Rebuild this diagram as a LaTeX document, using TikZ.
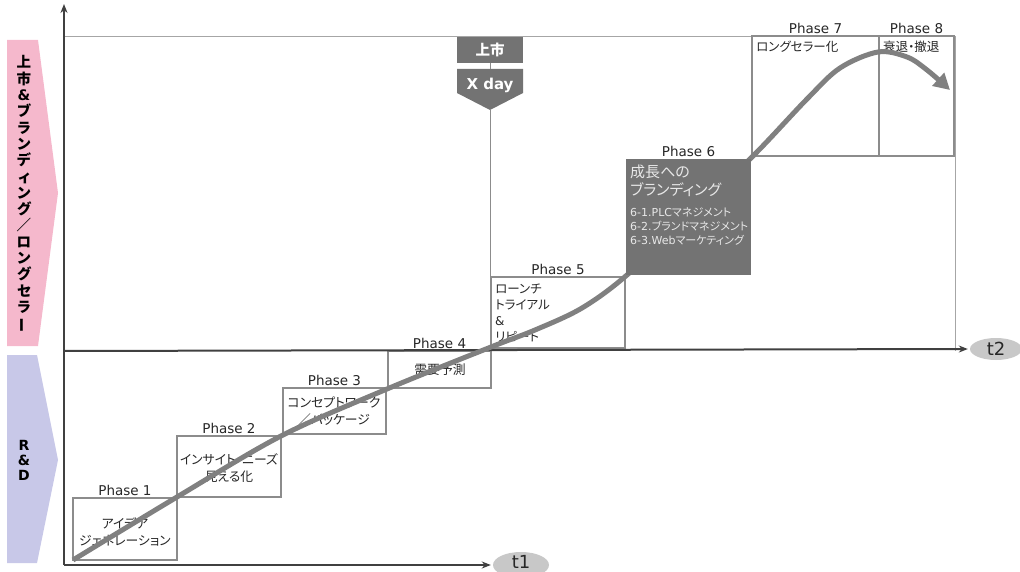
\documentclass[tikz,border=0pt]{standalone}
\usepackage{fontspec}
\usepackage{graphicx}
\setmainfont{DejaVu Sans}
\newfontfamily\jp[RawFeature=+palt]{Noto Sans CJK JP}
\usetikzlibrary{arrows.meta,shapes.geometric,calc}
\definecolor{boxgray}{HTML}{8C8C8C}
\definecolor{curvegray}{HTML}{808080}
\definecolor{darkfill}{HTML}{737373}
\definecolor{axisc}{HTML}{404040}
\definecolor{framec}{HTML}{A6A6A6}
\definecolor{ellc}{HTML}{C8C8C8}
\definecolor{pinkc}{HTML}{F5B8CC}
\definecolor{lavc}{HTML}{C8C8E8}
\definecolor{txt}{HTML}{262626}
\definecolor{lighttxt}{HTML}{E8E8E8}
\begin{document}
\begin{tikzpicture}[x=1pt,y=-1pt,
  pbox/.style={draw=boxgray, line width=2.4pt, inner sep=0pt, outer sep=0pt, anchor=north west},
  phl/.style={font=\fontsize{13.5}{16}\selectfont, text=txt, anchor=south, inner sep=2.5pt},
  jt/.style={font=\jp\fontsize{12.8}{17}\selectfont, text=txt, align=center, inner sep=0pt},
  jtl/.style={font=\jp\fontsize{12.5}{16}\selectfont, text=txt, align=left, inner sep=0pt, anchor=north west},
  axis/.style={draw=axisc, line width=2pt, -{Stealth[length=9pt,width=7pt]}},
  tlab/.style={ellipse, fill=ellc, inner sep=0pt, text=txt, font=\fontsize{18}{18}\selectfont},
  darkbox/.style={fill=darkfill, inner sep=0pt, text=white, font=\bfseries\fontsize{14.5}{16}\selectfont}
]
\useasboundingbox (0,0) rectangle (1020,572);

% left band arrows
\fill[pinkc] (7,40) -- (38,40) -- (58,193) -- (38,346) -- (7,346) -- cycle;
\fill[lavc] (7,355) -- (37,355) -- (58,460) -- (37,563) -- (7,563) -- cycle;
\node[font=\jp\bfseries\fontsize{14.5}{16.3}\selectfont, align=center, text=black, inner sep=0pt] (bandtop) at (24,194)
  {上\\市\\{\rmfamily\bfseries\&}\\ブ\\ラ\\ン\\デ\\ィ\\ン\\グ\\／\\ロ\\ン\\グ\\セ\\ラ\\\rotatebox[origin=c]{90}{ー}};
\node[font=\bfseries\fontsize{14}{15}\selectfont, align=center, text=black, inner sep=0pt] (bandrd) at (24,460) {R\\\&\\D};

% thin frame of upper region
\draw[framec, line width=1pt] (64,37) -- (955,37) -- (955,351);

% coordinates for axes
\coordinate (O) at (64,565);
\coordinate (ytop) at (64,4);
\coordinate (x2s) at (64,351);
\node[tlab, minimum width=56, minimum height=26] (t1) at (521,565) {};
\node[text=txt, font=\fontsize{18}{18}\selectfont, inner sep=0pt, anchor=base] (t1lab) at (521,568) {t1};
\node[tlab, minimum width=52, minimum height=22] (t2) at (996,349) {t2};

% phase boxes
\node[pbox, minimum width=104, minimum height=62] (p1) at (73,498) {};
\node[pbox, minimum width=104, minimum height=61] (p2) at (177,436) {};
\node[pbox, minimum width=103, minimum height=46] (p3) at (283,388) {};
\node[pbox, minimum width=103, minimum height=37] (p4) at (388,351) {};
\node[pbox, minimum width=134, minimum height=71] (p5) at (491,277) {};
\node[pbox, minimum width=127, minimum height=120] (p7) at (752,36) {};
\node[pbox, minimum width=75, minimum height=120] (p8) at (879,36) {};

% phase labels
\node[phl] (l1) at (p1.north) {Phase 1};
\node[phl] (l2) at (p2.north) {Phase 2};
\node[phl] (l3) at (p3.north) {Phase 3};
\node[phl] (l4) at (p4.north) {Phase 4};
\node[phl] (l5) at (p5.north) {Phase 5};
\node[phl] (l7) at (p7.north) {Phase 7};
\node[phl] (l8) at (p8.north) {Phase 8};

% phase texts
\node[jt] (tx1) at (125,532) {アイデア\\ジェネレーション};
\node[jt] (tx2) at (229,468) {インサイト・ニーズ\\見える化};
\node[jt] (tx3) at (334,411) {コンセプトワーク\\／パッケージ};
\node[jt] (tx4) at (440,370) {需要予測};
\node[jtl] (tx5) at (495,284) {ローンチ\\トライアル\\{\rmfamily\fontsize{12}{12}\selectfont\&}\\リピート};
\node[jtl] (tx7) at (756,41) {ロングセラー化};
\node[jtl] (tx8) at (883,41) {衰退・撤退};

% market launch marker
\node[darkbox, minimum width=66, minimum height=26] (launch) at (490,50) {\jp\bfseries 上市};
\fill[darkfill] (457,69) -- (523,69) -- (523,93) -- (490,110) -- (457,93) -- cycle;
\node[text=white, font=\bfseries\fontsize{15}{16}\selectfont, inner sep=0pt] (xday) at (490,85) {X day};
\coordinate (xtop) at (490,69);
\coordinate (xtip) at (490,110);
\coordinate (xbot) at (490,351);
\draw[boxgray, line width=1pt] (launch.south) -- (xtop);
\draw[boxgray, line width=1pt] (xtip) -- (xbot);

% axes
\draw[axis] (O) -- (ytop);
\draw[axis, shorten >=2pt] (O) -- (t1.west);
\draw[axis, shorten >=2pt] (x2s) -- (t2.west);

% product life cycle curve
\draw[curvegray, line width=5pt, -{Triangle[length=16pt,width=17pt]}]
  plot[smooth, tension=0.55] coordinates {(73,560) (177,497) (281,436) (387,389) (491,347) (535,330) (582,308) (627,275) (690,215) (752,157) (807,99) (840,68) (878,52) (907,57) (927,70) (950,90)};

% phase 6 (drawn over the curve)
\node[pbox, fill=darkfill, draw=none, minimum width=125, minimum height=116] (p6) at (626,159) {};
\node[phl] (l6) at (p6.north) {Phase 6};
\node[jtl, text=lighttxt, font=\jp\fontsize{15}{18}\selectfont] (tx6a) at (630,165) {成長への\\ブランディング};
\node[anchor=north west, inner sep=0pt, text=lighttxt, align=left, font=\fontsize{11}{14}\selectfont] (tx6b) at (630,207)
  {6-1.PLC{\jp マネジメント}\\6-2.{\jp ブランドマネジメント}\\6-3.Web{\jp マーケティング}};
\end{tikzpicture}
\end{document}
